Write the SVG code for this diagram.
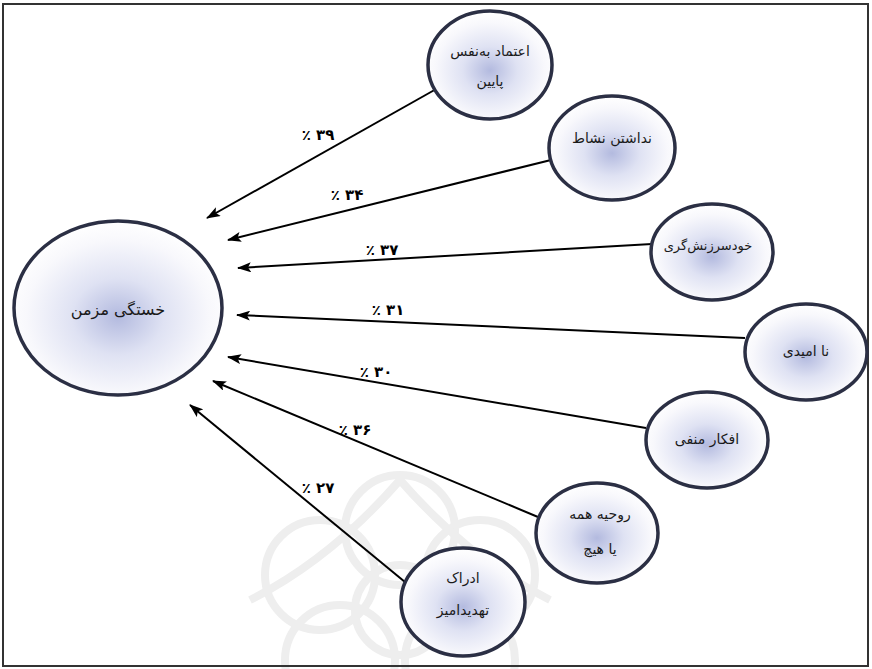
<svg xmlns="http://www.w3.org/2000/svg" width="872" height="669" viewBox="0 0 872 669">
  <defs>
    <radialGradient id="glow" cx="50%" cy="55%" r="55%">
      <stop offset="0" stop-color="#b3badf"/>
      <stop offset="0.4" stop-color="#dfe2f3"/>
      <stop offset="0.8" stop-color="#f8f8fc"/>
      <stop offset="1" stop-color="#ffffff"/>
    </radialGradient>
    <marker id="arrow" viewBox="0 0 14 10" refX="13" refY="5" markerWidth="14" markerHeight="10" markerUnits="userSpaceOnUse" orient="auto">
      <path d="M0,0 L14,5 L0,10 L3,5 z" fill="#000"/>
    </marker>
    <style>
      .node ellipse { fill: url(#glow); stroke: #2b2f44; stroke-width: 3.5; }
      .node text { font-family: "DejaVu Sans", sans-serif; font-size: 14px; fill: #1a1a1a; text-anchor: middle; }
      .edge { stroke: #000; stroke-width: 2; fill: none; marker-end: url(#arrow); }
      .pct { font-family: "DejaVu Sans", sans-serif; font-size: 15px; font-weight: bold; fill: #000; text-anchor: middle; }
      .mark { fill: none; stroke: #eeeeee; stroke-width: 8; }
    </style>
  </defs>

  <rect x="0" y="0" width="872" height="669" fill="#ffffff"/>

  <!-- faint ornament in the background -->
  <g id="ornament">
    <circle class="mark" cx="400" cy="610" r="45"/>
    <circle class="mark" cx="400" cy="530" r="55"/>
    <circle class="mark" cx="320" cy="575" r="55"/>
    <circle class="mark" cx="480" cy="575" r="55"/>
    <circle class="mark" cx="340" cy="660" r="55"/>
    <circle class="mark" cx="460" cy="660" r="55"/>
    <path class="mark" d="M250,600 Q330,560 400,480 Q470,560 550,600"/>
  </g>

  <rect x="3" y="4" width="865" height="662" fill="none" stroke="#333" stroke-width="2"/>

  <!-- connectors -->
  <g id="connectors">
    <line class="edge" x1="438" y1="88" x2="207" y2="218"/>
    <line class="edge" x1="551" y1="160" x2="228" y2="240"/>
    <line class="edge" x1="652" y1="244" x2="238" y2="268"/>
    <line class="edge" x1="745" y1="338" x2="237" y2="315"/>
    <line class="edge" x1="646" y1="428" x2="228" y2="357"/>
    <line class="edge" x1="538" y1="517" x2="213" y2="381"/>
    <line class="edge" x1="405" y1="582" x2="190" y2="405"/>
    <text class="pct" x="318" y="140">٪ ۳۹</text>
    <text class="pct" x="347" y="200">٪ ۳۴</text>
    <text class="pct" x="382" y="255">٪ ۳۷</text>
    <text class="pct" x="388" y="315">٪ ۳۱</text>
    <text class="pct" x="376" y="377">٪ ۳۰</text>
    <text class="pct" x="355" y="435">٪ ۳۶</text>
    <text class="pct" x="318" y="493">٪ ۲۷</text>
  </g>

  <g id="chronic-fatigue" class="node">
    <ellipse cx="118" cy="308" rx="104" ry="87"/>
    <text x="118" y="315" style="font-size:16px">خستگی مزمن</text>
  </g>

  <g id="low-self-esteem" class="node">
    <ellipse cx="490" cy="65" rx="62" ry="54"/>
    <text x="490" y="56">اعتماد به‌نفس</text>
    <text x="490" y="86">پایین</text>
  </g>

  <g id="no-vitality" class="node">
    <ellipse cx="612" cy="148" rx="63" ry="52"/>
    <text x="612" y="143">نداشتن نشاط</text>
  </g>

  <g id="self-blame" class="node">
    <ellipse cx="712" cy="252" rx="61" ry="48"/>
    <text x="708" y="250" style="font-size:13px">خودسرزنش‌گری</text>
  </g>

  <g id="hopelessness" class="node">
    <ellipse cx="806" cy="352" rx="61" ry="48"/>
    <text x="806" y="356">نا امیدی</text>
  </g>

  <g id="negative-thoughts" class="node">
    <ellipse cx="707" cy="440" rx="61" ry="48"/>
    <text x="707" y="444">افکار منفی</text>
  </g>

  <g id="all-or-nothing" class="node">
    <ellipse cx="597" cy="533" rx="61" ry="50"/>
    <text x="600" y="519">روحیه همه</text>
    <text x="600" y="554">یا هیچ</text>
  </g>

  <g id="threat-perception" class="node">
    <ellipse cx="463" cy="602" rx="62" ry="54"/>
    <text x="463" y="583">ادراک</text>
    <text x="463" y="615">تهدیدامیز</text>
  </g>
</svg>
